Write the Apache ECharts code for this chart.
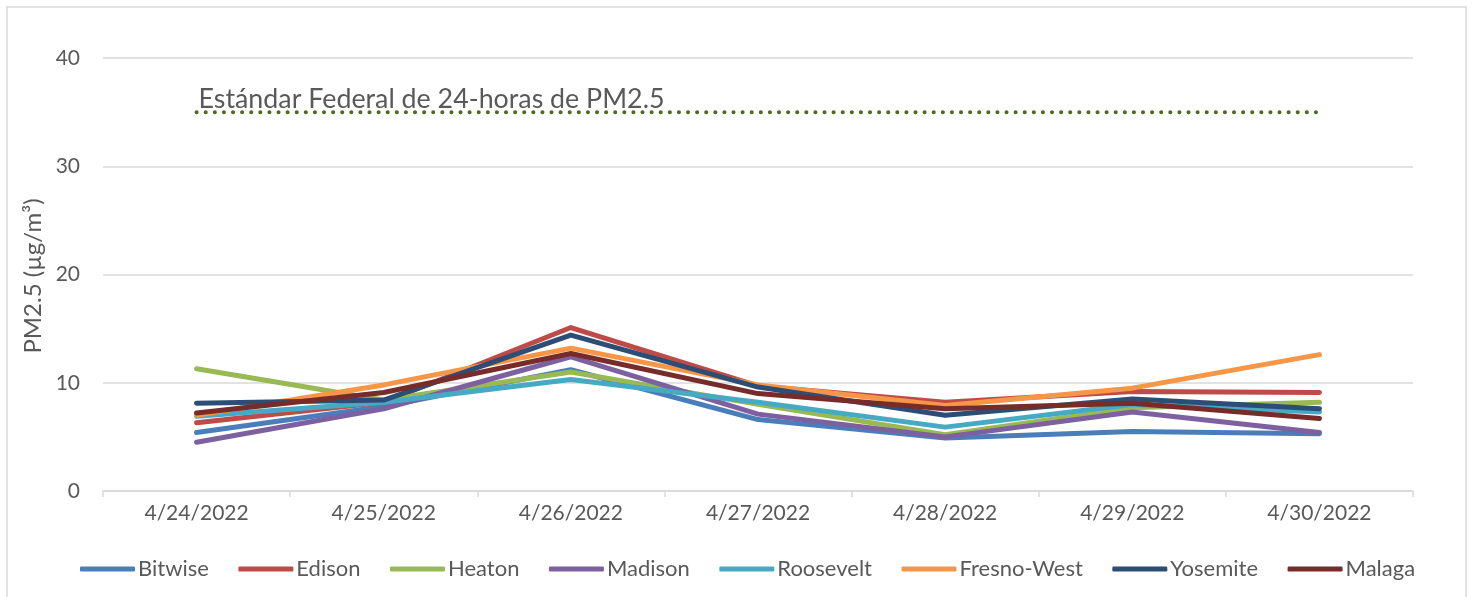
<!DOCTYPE html>
<html>
<head>
<meta charset="utf-8">
<script src="https://cdn.jsdelivr.net/npm/echarts@6/dist/echarts.min.js"></script>
<style>
html,body{margin:0;padding:0;background:#fff;}
#chart{width:1473px;height:597px;}
</style>
</head>
<body>
<div id="chart"></div>
<script>
const dates = ['4/24/2022','4/25/2022','4/26/2022','4/27/2022','4/28/2022','4/29/2022','4/30/2022'];
const yTicks = [0, 10, 20, 30, 40];
const bitwise    = [5.4, 7.8, 11.2, 6.6, 4.9, 5.5, 5.3];
const edison     = [6.3, 8.2, 15.1, 9.7, 8.2, 9.2, 9.1];
const heaton     = [11.3, 8.4, 11.0, 8.0, 5.2, 7.7, 8.2];
const madison    = [4.5, 7.6, 12.4, 7.1, 5.0, 7.3, 5.4];
const roosevelt  = [6.9, 8.2, 10.3, 8.2, 5.9, 8.0, 7.3];
const fresnoWest = [7.0, 9.8, 13.2, 9.8, 7.9, 9.5, 12.6];
const yosemite   = [8.1, 8.4, 14.4, 9.6, 7.0, 8.5, 7.6];
const malaga     = [7.2, 9.1, 12.7, 9.0, 7.6, 8.1, 6.7];
const standard   = [35, 35, 35, 35, 35, 35, 35];
const standardLabel = 'Estándar Federal de 24-horas de PM2.5';
const yAxisTitle = 'PM2.5 (µg/m³)';

const seriesDefs = [
  ['Bitwise', bitwise, '#4a7ebb'],
  ['Edison', edison, '#be4b48'],
  ['Heaton', heaton, '#98b954'],
  ['Madison', madison, '#7d60a0'],
  ['Roosevelt', roosevelt, '#46aac5'],
  ['Fresno-West', fresnoWest, '#f79646'],
  ['Yosemite', yosemite, '#2c4d75'],
  ['Malaga', malaga, '#772c2a']
];
const FONT = 'Lato';
const TXT = '#595959';

const series = seriesDefs.map(([name, data, color]) => ({
  name, type: 'line', data, symbol: 'none', color,
  lineStyle: { width: 5, color, cap: 'round', join: 'round' },
  itemStyle: { color },
  animation: false
}));
series.push({
  name: 'Standard', type: 'line', symbol: 'none', animation: false,
  data: standard,
  lineStyle: { width: 4, color: '#4e6b24', type: [0.1, 9], cap: 'round' },
  itemStyle: { color: '#4e6b24' }
});

const baseGraphic = [
  { type: 'rect', shape: { x: 7, y: 7, width: 1459, height: 600 },
    style: { fill: 'none', stroke: '#d9d9d9', lineWidth: 1.5 }, silent: true },
  { type: 'text', x: 33, y: 276, rotation: Math.PI / 2,
    style: { text: yAxisTitle, fill: TXT, font: '24px Lato', align: 'center', verticalAlign: 'middle' } }
];

const chart = echarts.init(document.getElementById('chart'), null, { renderer: 'canvas' });
chart.setOption({
  backgroundColor: '#fff',
  animation: false,
  grid: { left: 103, right: 60, top: 58, bottom: 106 },
  xAxis: {
    type: 'category', data: dates, boundaryGap: true,
    axisLine: { lineStyle: { color: '#d9d9d9', width: 1.5 } },
    axisTick: { show: true, length: 6, lineStyle: { color: '#d9d9d9', width: 1.5 } },
    axisLabel: { color: TXT, fontFamily: FONT, fontSize: 21, margin: 12 }
  },
  yAxis: {
    type: 'value', min: yTicks[0], max: yTicks[yTicks.length - 1], interval: 10,
    axisLine: { show: false }, axisTick: { show: false },
    splitLine: { lineStyle: { color: '#d9d9d9', width: 1.5 } },
    axisLabel: { color: TXT, fontFamily: FONT, fontSize: 21, margin: 23 }
  },
  legend: {
    data: seriesDefs.map(d => d[0]),
    bottom: 12, left: 75,
    icon: 'roundRect', itemWidth: 55, itemHeight: 5, itemGap: 29.5,
    textStyle: { color: TXT, fontFamily: FONT, fontSize: 22, padding: [0, 0, 0, -2] }
  },
  graphic: baseGraphic,
  series
});

const p = chart.convertToPixel({ seriesIndex: series.length - 1 }, [0, standard[0]]);
chart.setOption({
  graphic: baseGraphic.concat([
    { type: 'text', x: p[0] + 2, y: p[1] - 13,
      style: { text: standardLabel, fill: TXT, font: '26.8px Lato', align: 'left', verticalAlign: 'middle' } }
  ])
});
</script>
</body>
</html>
